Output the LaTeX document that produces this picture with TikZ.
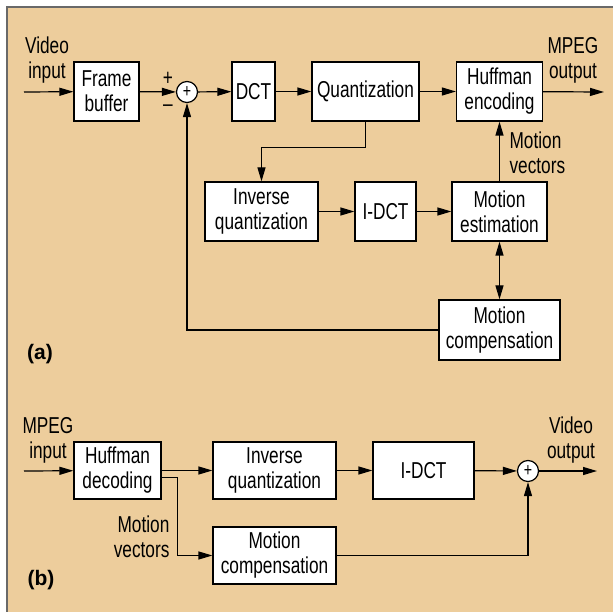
\documentclass[tikz,border=0pt]{standalone}
\usepackage{fontspec}
\setmainfont{Liberation Sans}[FakeStretch=0.75]
\newfontfamily\panelfont{Liberation Sans}
\usetikzlibrary{arrows.meta,positioning}
\definecolor{panel}{RGB}{237,205,156}
\definecolor{rim}{RGB}{105,105,105}

\begin{document}
\begin{tikzpicture}[x=1pt,y=-1pt,font=\fontsize{23}{25}\selectfont,line width=1.2pt,
	>={Triangle[length=14pt,width=8pt]}]
	\tikzstyle{block}=[draw,fill=white,inner sep=0pt,align=center]
	\tikzstyle{sum}=[draw,fill=white,circle,minimum size=21pt,inner sep=0pt,font=\fontsize{19}{19}\selectfont]
	\tikzstyle{lbl}=[inner sep=0pt,align=center]
	\tikzstyle{tag}=[inner sep=0pt,font=\panelfont\bfseries\fontsize{21}{24}\selectfont]
	\useasboundingbox (0,0) rectangle (613,612);
	\fill [panel] (7,7) rectangle (613,612);
	\draw [rim,line width=1.5pt] (7,612) -- (7,7) -- (613,7);

	% (a) encoder
	\node [block,minimum width=65pt,minimum height=59pt] (fb) at (106.5,91.5) {Frame\\buffer};
	\node [sum] (sa) at (187,92) {+};
	\node [block,minimum width=43pt,minimum height=59pt] (dct) at (253.5,91.5) {DCT};
	\node [block,minimum width=107pt,minimum height=59pt] (quant) at (365.5,91.5) {Quantization};
	\node [block,minimum width=86pt,minimum height=59pt] (huff) at (499.5,91.5) {Huffman\\encoding};
	\node [block,minimum width=113pt,minimum height=59pt] (iquant) at (261.5,211.5) {Inverse\\quantization};
	\node [block,minimum width=61pt,minimum height=59pt] (idct) at (385.5,211.5) {I-DCT};
	\node [block,minimum width=95pt,minimum height=59pt] (mest) at (499.5,211.5) {Motion\\estimation};
	\node [block,minimum width=121pt,minimum height=60pt] (mcomp) at (499.5,330) {Motion\\compensation};
	\coordinate (vin) at (24,92);
	\coordinate (mout) at (604,92);
	\node [lbl] (vinl) at (47,60) {Video\\input};
	\node [lbl] (moutl) at (573,60) {MPEG\\output};
	\node [lbl] (plus) at (168,79) {+};
	\node [lbl] (minus) at (168,108) {--};
	\node [lbl,align=left,anchor=west] (mvl) at (509,153) {Motion\\vectors};
	\node [tag] (ta) at (40,354) {(a)};
	\draw [->] (vin) -- (fb);
	\draw [->] (fb) -- (sa);
	\draw [->] (sa) -- (dct);
	\draw [->] (dct) -- (quant);
	\draw [->] (quant) -- (huff);
	\draw [->] (huff) -- (mout);
	\draw [->] (quant.south) -- ++(0,26) -| (iquant.north);
	\draw [->] (iquant) -- (idct);
	\draw [->] (idct) -- (mest);
	\draw [->] (mest) -- (huff);
	\draw [<->] (mest) -- (mcomp);
	\draw [->] (mcomp.west) -| (sa.south);

	% (b) decoder
	\node [block,minimum width=87pt,minimum height=57pt] (hdec) at (117.5,470.5) {Huffman\\decoding};
	\node [block,minimum width=123pt,minimum height=57pt] (iq2) at (274.5,470.5) {Inverse\\quantization};
	\node [block,minimum width=101pt,minimum height=57pt] (idct2) at (423.5,470.5) {I-DCT};
	\node [block,minimum width=123pt,minimum height=57pt] (mc2) at (274.5,555.5) {Motion\\compensation};
	\node [sum] (sb) at (528,471) {+};
	\coordinate (min) at (24,471);
	\coordinate (vout) at (597,471);
	\node [lbl] (minl) at (48,440) {MPEG\\input};
	\node [lbl] (voutl) at (571,440) {Video\\output};
	\node [lbl,align=right,anchor=east] (mv2l) at (170,537) {Motion\\vectors};
	\node [tag] (tb) at (41,580) {(b)};
	\draw [->] (min) -- (hdec);
	\draw [->] (hdec) -- (iq2);
	\draw [->] (iq2) -- (idct2);
	\draw [->] (idct2) -- (sb);
	\draw [->] (sb) -- (vout);
	\draw [->] ([yshift=-7pt]hdec.east) -- ++(16,0) |- (mc2.west);
	\draw [->] (mc2.east) -| (sb.south);
\end{tikzpicture}
\end{document}
